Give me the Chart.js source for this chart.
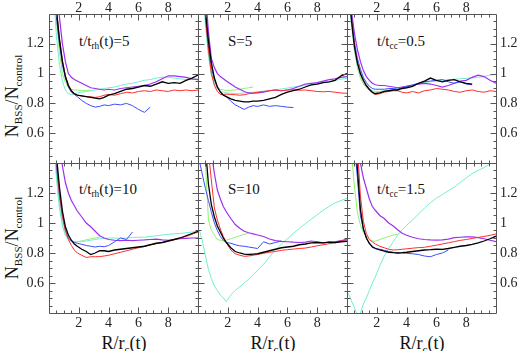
<!DOCTYPE html>
<html>
<head>
<meta charset="utf-8">
<script src="https://cdn.jsdelivr.net/npm/chart.js@4.4.1/dist/chart.umd.min.js"></script>
<style>
  body { margin: 0; background: #fff; width: 520px; height: 351px; overflow: hidden; position: relative;
         font-family: "Liberation Serif", "DejaVu Serif", serif; color: #111; }
  canvas { position: absolute; left: 0; top: 0; }
  .lab { position: absolute; font-size: 15px; line-height: 1; white-space: nowrap; }
  .ytitle { position: absolute; font-size: 18px; line-height: 1; white-space: nowrap;
            transform: translate(-50%, -50%) rotate(-90deg); }
  .xtitle { position: absolute; font-size: 18px; line-height: 1; white-space: nowrap; transform: translateX(-50%); }
  sub { font-size: 0.62em; vertical-align: -0.35em; line-height: 0; }
</style>
</head>
<body>

<div class="ytitle" style="left:12px; top:96px">N<sub>BSS</sub>/N<sub>control</sub></div>
<div class="ytitle" style="left:12px; top:238px">N<sub>BSS</sub>/N<sub>control</sub></div>
<div class="xtitle" style="left:124px; top:334px">R/r<sub>c</sub>(t)</div>
<div class="xtitle" style="left:273px; top:334px">R/r<sub>c</sub>(t)</div>
<div class="xtitle" style="left:422px; top:334px">R/r<sub>c</sub>(t)</div>

<div class="lab" style="left:79px; top:34px">t/t<sub>rh</sub>(t)=5</div>
<div class="lab" style="left:228px; top:34px">S=5</div>
<div class="lab" style="left:377px; top:34px">t/t<sub>cc</sub>=0.5</div>
<div class="lab" style="left:79px; top:182px">t/t<sub>rh</sub>(t)=10</div>
<div class="lab" style="left:228px; top:182px">S=10</div>
<div class="lab" style="left:377px; top:182px">t/t<sub>cc</sub>=1.5</div>

<script>
// radial grid (R/rc) shared by all curves
const R = [0.1, 0.3, 0.5, 0.7, 0.9, 1.1, 1.3, 1.5, 1.7, 1.9,
           2.2, 2.5, 2.8, 3.1, 3.4, 3.7, 4.0,
           4.4, 4.8, 5.2, 5.6, 6.0, 6.4, 6.8, 7.2, 7.6, 8.0, 8.4, 8.8, 9.2, 9.6, 10.0];
const xTicks = [2, 4, 6, 8];
const yTicks = [0.6, 0.8, 1, 1.2];
const _ = null;

// t/trh(t)=5
const trh5Black  = [2.4,1.75,1.42,1.23,1.08,0.98,0.92,0.885,0.865,0.855, 0.85,0.845,0.84,0.835,0.83,0.84,0.855, 0.865,0.88,0.895,0.9,0.91,0.92,0.915,0.93,0.945,0.935,0.94,0.935,0.955,0.97,0.99];
const trh5Red    = [2.4,1.78,1.44,1.24,1.09,0.985,0.925,0.885,0.865,0.855, 0.85,0.845,0.845,0.84,0.845,0.855,0.86, 0.855,0.865,0.875,0.87,0.88,0.885,0.88,0.89,0.885,0.88,0.89,0.885,0.89,0.885,0.89];
const trh5Blue   = [2.3,1.7,1.38,1.2,1.06,0.97,0.91,0.875,0.86,0.845, 0.82,0.8,0.785,0.775,0.78,0.79,0.785, 0.795,0.79,0.8,0.785,0.76,0.74,0.775,_,_,_,_,_,_,_,_];
const trh5Purple = [2.6,2.0,1.6,1.38,1.2,1.08,1.0,0.975,0.96,0.95, 0.935,0.92,0.905,0.9,0.895,0.89,0.895, 0.89,0.9,0.905,0.91,0.915,0.92,0.93,0.945,0.965,0.985,0.985,0.98,0.975,0.965,0.96];
const trh5Cyan   = [2.0,1.55,1.25,1.06,0.95,0.89,0.865,0.86,0.865,0.87, 0.875,0.88,0.885,0.89,0.895,0.9,0.905, 0.91,0.92,0.93,0.935,0.945,0.955,0.96,0.97,0.975,0.975,0.97,0.965,0.96,0.96,0.965];
const trh5Green  = [2.2,1.65,1.35,1.15,1.0,0.94,0.91,0.895,0.89,0.89, 0.885,0.885,0.89,_,_,_,_, _,_,_,_,_,_,_,_,_,_,_,_,_,_,_];

// S=5
const s5Black  = [2.4,1.75,1.42,1.22,1.07,0.97,0.91,0.875,0.855,0.845, 0.83,0.82,0.815,0.81,0.81,0.815,0.815, 0.82,0.83,0.84,0.86,0.875,0.885,0.895,0.91,0.925,0.93,0.94,0.945,0.955,0.985,1.0];
const s5Red    = [2.4,1.72,1.38,1.16,1.0,0.92,0.88,0.86,0.86,0.862, 0.86,0.858,0.855,0.858,0.865,0.87,0.875, 0.88,0.885,0.89,0.885,0.89,0.892,0.888,0.89,0.885,0.88,0.878,0.88,0.875,0.87,0.868];
const s5Blue   = [2.3,1.7,1.38,1.18,1.04,0.96,0.91,0.88,0.86,0.845, 0.815,0.79,0.775,0.76,0.775,0.785,0.78, 0.79,0.78,0.785,0.78,0.775,0.772,_,_,_,_,_,_,_,_,_];
const s5Purple = [2.6,1.95,1.55,1.28,1.1,1.04,1.0,0.98,0.965,0.95, 0.93,0.91,0.895,0.88,0.87,0.868,0.87, 0.875,0.885,0.89,0.885,0.89,0.9,0.915,0.93,0.935,0.94,0.95,0.96,0.965,0.975,0.98];
const s5Cyan   = [2.2,1.65,1.32,1.12,0.99,0.93,0.9,0.885,0.875,0.87, 0.868,0.866,0.867,0.87,0.872,0.875,0.878, 0.882,0.887,0.892,0.897,0.903,0.91,0.915,0.92,0.925,0.932,0.94,0.945,0.955,0.962,0.968];
const s5Green  = [2.3,1.7,1.36,1.14,1.0,0.94,0.91,0.895,0.89,0.888, 0.887,0.89,0.895,0.9,0.905,0.91,_, _,_,_,_,_,_,_,_,_,_,_,_,_,_,_];

// t/tcc=0.5
const cc05Black  = [1.6,1.36,1.18,1.07,1.0,0.955,0.92,0.895,0.875,0.865, 0.87,0.88,0.885,0.89,0.89,0.9,0.905, 0.915,0.935,0.95,0.97,0.955,0.945,0.955,0.96,0.945,0.935,0.93,_,_,_,_];
const cc05Red    = [1.6,1.37,1.19,1.08,1.0,0.95,0.915,0.89,0.87,0.86, 0.865,0.875,0.88,0.885,0.885,0.875,0.87, 0.88,0.87,0.885,0.89,0.9,0.895,0.89,0.88,0.875,0.885,0.89,0.88,0.875,0.885,0.88];
const cc05Blue   = [1.6,1.38,1.21,1.1,1.03,0.975,0.94,0.915,0.9,0.895, 0.895,0.895,0.9,0.9,0.895,0.905,0.915, 0.925,0.935,0.945,0.95,0.955,0.96,0.945,0.935,0.945,0.93,0.925,_,_,_,_];
const cc05Purple = [1.65,1.42,1.27,1.16,1.08,1.02,0.98,0.955,0.935,0.925, 0.92,0.92,0.915,0.91,0.905,0.91,0.915, 0.92,0.93,0.935,0.93,0.92,0.91,0.92,0.935,0.95,0.955,0.975,0.99,0.98,0.955,0.935];
const cc05Cyan   = [1.55,1.33,1.16,1.05,0.98,0.94,0.91,0.895,0.885,0.88, 0.88,0.885,0.89,0.895,0.9,0.905,0.91, 0.92,0.93,0.94,0.945,0.95,0.955,0.96,0.962,0.965,0.968,0.97,0.975,0.98,0.99,0.995];
const cc05Green  = [1.55,1.33,1.16,1.04,0.97,0.93,0.905,0.89,0.88,0.875, 0.875,0.88,0.885,0.885,_,_,_, _,_,_,_,_,_,_,_,_,_,_,_,_,_,_];

// t/trh(t)=10
const trh10Black  = [2.4,1.8,1.45,1.24,1.08,0.975,0.92,0.885,0.86,0.845, 0.825,0.81,0.79,0.8,0.815,0.815,0.81, 0.82,0.825,0.83,0.835,0.84,0.845,0.855,0.865,0.87,0.88,0.89,0.9,0.915,0.93,0.945];
const trh10Red    = [2.4,1.78,1.42,1.2,1.05,0.95,0.89,0.85,0.82,0.8, 0.785,0.77,0.775,0.775,0.776,0.78,0.785, 0.795,0.805,0.815,0.825,0.835,0.843,0.855,0.862,0.87,0.88,0.888,0.9,0.91,0.925,0.94];
const trh10Blue   = [2.3,1.72,1.38,1.18,1.04,0.95,0.9,0.88,0.87,0.865, 0.858,0.85,0.845,0.84,0.845,0.842,0.85, 0.875,0.9,0.89,0.94,_,_,_,_,_,_,_,_,_,_,_];
const trh10Purple = [2.8,2.2,1.8,1.55,1.38,1.27,1.2,1.15,1.115,1.08, 1.04,1.0,0.975,0.945,0.915,0.9,0.89, 0.885,0.882,0.885,0.882,0.885,0.887,0.89,0.892,0.888,0.885,0.89,0.895,0.898,0.9,0.9];
const trh10Cyan   = [2.1,1.6,1.3,1.1,0.98,0.92,0.89,0.88,0.875,0.875, 0.878,0.88,0.885,0.89,0.895,0.897,0.9, 0.9,0.898,0.9,0.903,0.905,0.905,0.91,0.915,0.92,0.925,0.928,0.93,0.935,0.94,0.945];
const trh10Green  = [2.2,1.65,1.32,1.12,0.99,0.92,0.89,0.878,0.875,0.876, 0.88,0.888,0.895,0.9,0.905,_,_, _,_,_,_,_,_,_,_,_,_,_,_,_,_,_];

// S=10
const s10Black  = [2.4,1.85,1.5,1.26,1.12,1.04,0.98,0.94,0.9,0.87, 0.835,0.81,0.8,0.792,0.79,0.793,0.795, 0.805,0.815,0.825,0.835,0.84,0.845,0.855,0.86,0.868,0.87,0.868,0.872,0.87,0.875,0.878];
const s10Red    = [3.0,2.2,1.75,1.48,1.28,1.1,1.02,0.96,0.91,0.87, 0.82,0.795,0.785,0.778,0.78,0.785,0.79, 0.798,0.805,0.81,0.818,0.822,0.826,0.83,0.833,0.84,0.848,0.855,0.862,0.868,0.88,0.895];
const s10Blue   = [1.41,1.32,1.23,1.15,1.07,1.0,0.95,0.91,0.885,0.87, 0.865,0.855,0.848,0.845,0.84,0.835,0.83, 0.875,0.86,0.87,0.88,_,_,_,_,_,_,_,_,_,_,_];
const s10Purple = [3.2,2.5,2.0,1.7,1.47,1.33,1.22,1.16,1.11,1.075, 1.03,0.99,0.965,0.945,0.935,0.928,0.92, 0.91,0.893,0.883,0.878,0.875,0.872,0.87,0.872,0.88,0.875,0.868,0.872,0.875,0.882,0.888];
const s10Cyan   = [0.95,0.88,0.78,0.69,0.63,0.58,0.55,0.52,0.5,0.475, 0.52,0.55,0.575,0.6,0.625,0.655,0.685, 0.725,0.775,0.82,0.86,0.895,0.93,0.965,0.995,1.025,1.055,1.085,1.11,1.135,1.15,1.165];
const s10Green  = [2.4,1.8,1.4,1.02,0.95,0.92,0.89,0.885,0.88,0.885, 0.895,0.905,0.915,0.925,0.93,_,_, _,_,_,_,_,_,_,_,_,_,_,_,_,_,_];

// t/tcc=1.5
const cc15Black  = [2.6,2.0,1.62,1.36,1.09,0.96,0.9,0.865,0.84,0.83, 0.82,0.812,0.805,0.802,0.8,0.802,0.805, 0.81,0.815,0.82,0.822,0.825,0.824,0.83,0.838,0.845,0.85,0.858,0.868,0.88,0.895,0.912];
const cc15Red    = [2.7,2.05,1.75,1.5,1.18,1.01,0.93,0.89,0.875,0.86, 0.845,0.835,0.825,0.82,0.822,0.825,0.828, 0.832,0.836,0.838,0.845,0.852,0.86,0.868,0.876,0.884,0.89,0.897,0.904,0.91,0.918,0.927];
const cc15Blue   = [2.5,1.9,1.52,1.3,1.05,0.96,0.9,0.86,0.845,0.832, 0.825,0.818,0.81,0.805,0.8,0.8,0.798, 0.795,0.79,0.78,0.775,0.79,0.8,0.82,_,_,_,_,_,_,_,_];
const cc15Purple = [3.4,2.6,2.1,1.75,1.4,1.3,1.23,1.16,1.11,1.085, 1.05,1.03,1.0,0.98,0.955,0.932,0.918, 0.905,0.895,0.89,0.887,0.886,0.887,0.893,0.902,0.905,0.908,0.907,0.902,0.895,0.885,0.876];
const cc15Cyan   = [0.53,0.48,0.435,0.38,0.4,0.46,0.5,0.55,0.6,0.64, 0.715,0.78,0.83,0.875,0.92,0.955,0.985, 1.02,1.06,1.1,1.135,1.165,1.19,1.215,1.24,1.27,1.3,1.33,1.35,1.37,1.395,1.42];
const cc15Green  = [2.0,1.47,1.24,1.07,0.985,0.94,0.91,0.89,0.88,0.878, 0.89,0.9,0.91,0.92,0.925,_,_, _,_,_,_,_,_,_,_,_,_,_,_,_,_,_];

// draw order: first dataset ends up on top
const lineColors = ['#000000', '#ff2d2d', '#3a4dff', '#9b30f0', '#6ff0d2', '#92f06e'];
const lineWidths = [1.3, 1, 1, 1.2, 1, 1];

const panels = [
  { box: [49, 14, 198, 163],  row: 0, col: 0, series: [trh5Black, trh5Red, trh5Blue, trh5Purple, trh5Cyan, trh5Green] },
  { box: [198, 14, 347, 163], row: 0, col: 1, series: [s5Black, s5Red, s5Blue, s5Purple, s5Cyan, s5Green] },
  { box: [347, 14, 496, 163], row: 0, col: 2, series: [cc05Black, cc05Red, cc05Blue, cc05Purple, cc05Cyan, cc05Green] },
  { box: [49, 163, 198, 313],  row: 1, col: 0, series: [trh10Black, trh10Red, trh10Blue, trh10Purple, trh10Cyan, trh10Green] },
  { box: [198, 163, 347, 313], row: 1, col: 1, series: [s10Black, s10Red, s10Blue, s10Purple, s10Cyan, s10Green] },
  { box: [347, 163, 496, 313], row: 1, col: 2, series: [cc15Black, cc15Red, cc15Blue, cc15Purple, cc15Cyan, cc15Green] },
];

// frame with inward major/minor ticks on all four sides
const frameTicks = {
  id: 'frameTicks',
  afterDraw(chart) {
    const { ctx, chartArea: a, scales: { x, y } } = chart;
    ctx.save();
    ctx.strokeStyle = '#555';
    ctx.lineWidth = 1;
    ctx.beginPath();
    const L = Math.round(a.left) + 0.5, T = Math.round(a.top) + 0.5;
    const Rr = Math.round(a.right) + 0.5, B = Math.round(a.bottom) + 0.5;
    ctx.rect(L, T, Rr - L, B - T);
    for (let i = 1; i < 20; i++) {
      const px = Math.round(x.getPixelForValue(i * 0.5)) + 0.5;
      const len = i % 4 === 0 ? 6 : 3;
      ctx.moveTo(px, T); ctx.lineTo(px, T + len);
      ctx.moveTo(px, B); ctx.lineTo(px, B - len);
    }
    for (let i = 9; i < 28; i++) {
      const py = Math.round(y.getPixelForValue(i * 0.05)) + 0.5;
      const len = i % 4 === 0 ? 6 : 3;
      ctx.moveTo(L, py); ctx.lineTo(L + len, py);
      ctx.moveTo(Rr, py); ctx.lineTo(Rr - len, py);
    }
    ctx.stroke();
    ctx.restore();
  }
};

const tickFont = { family: '"Liberation Serif", "DejaVu Serif", serif', size: 14 };

// fixed scale box sizes so every plot area lands exactly on its panel
const yBoxLeft = 40, yBoxRight = 24, xBoxTop = 14, xBoxBottom = 20;

panels.forEach(p => {
  const cv = document.createElement('canvas');
  cv.width = 520; cv.height = 351;
  document.body.appendChild(cv);
  const [l, t, r, b] = p.box;
  const yRight = p.col === 2;
  const xTop = p.row === 0;
  const yW = yRight ? yBoxRight : yBoxLeft;
  const xH = xTop ? xBoxTop : xBoxBottom;
  new Chart(cv, {
    type: 'line',
    data: {
      datasets: p.series.map((s, i) => ({
        data: R.map((xv, j) => ({ x: xv, y: s[j] })),
        borderColor: lineColors[i],
        borderWidth: lineWidths[i],
        pointRadius: 0,
        tension: 0,
        spanGaps: false
      }))
    },
    options: {
      responsive: false,
      animation: false,
      events: [],
      layout: { padding: {
        left: yRight ? l : l - yW,
        right: yRight ? 520 - r - yW : 520 - r,
        top: xTop ? t - xH : t,
        bottom: xTop ? 351 - b : 351 - b - xH
      } },
      plugins: { legend: { display: false }, tooltip: { enabled: false } },
      scales: {
        x: {
          type: 'linear', min: 0, max: 10,
          position: xTop ? 'top' : 'bottom',
          grid: { display: false, drawTicks: false },
          border: { display: false },
          ticks: { padding: xTop ? -3 : 2, font: tickFont, color: '#222', maxRotation: 0, autoSkip: false,
                   callback: v => String(v) },
          afterBuildTicks: s => { s.ticks = xTicks.map(v => ({ value: v })); },
          afterFit: s => { s.height = xH; }
        },
        y: {
          type: 'linear', min: 0.4, max: 1.4,
          position: yRight ? 'right' : 'left',
          grid: { display: false, drawTicks: false },
          border: { display: false },
          ticks: { display: p.col !== 1, padding: yRight ? 4 : 5, font: tickFont, color: '#222', autoSkip: false,
                   callback: v => String(+v.toFixed(2)) },
          afterBuildTicks: s => { s.ticks = yTicks.map(v => ({ value: v })); },
          afterFit: s => { s.width = yW; }
        }
      }
    },
    plugins: [frameTicks]
  });
});
</script>
</body>
</html>
